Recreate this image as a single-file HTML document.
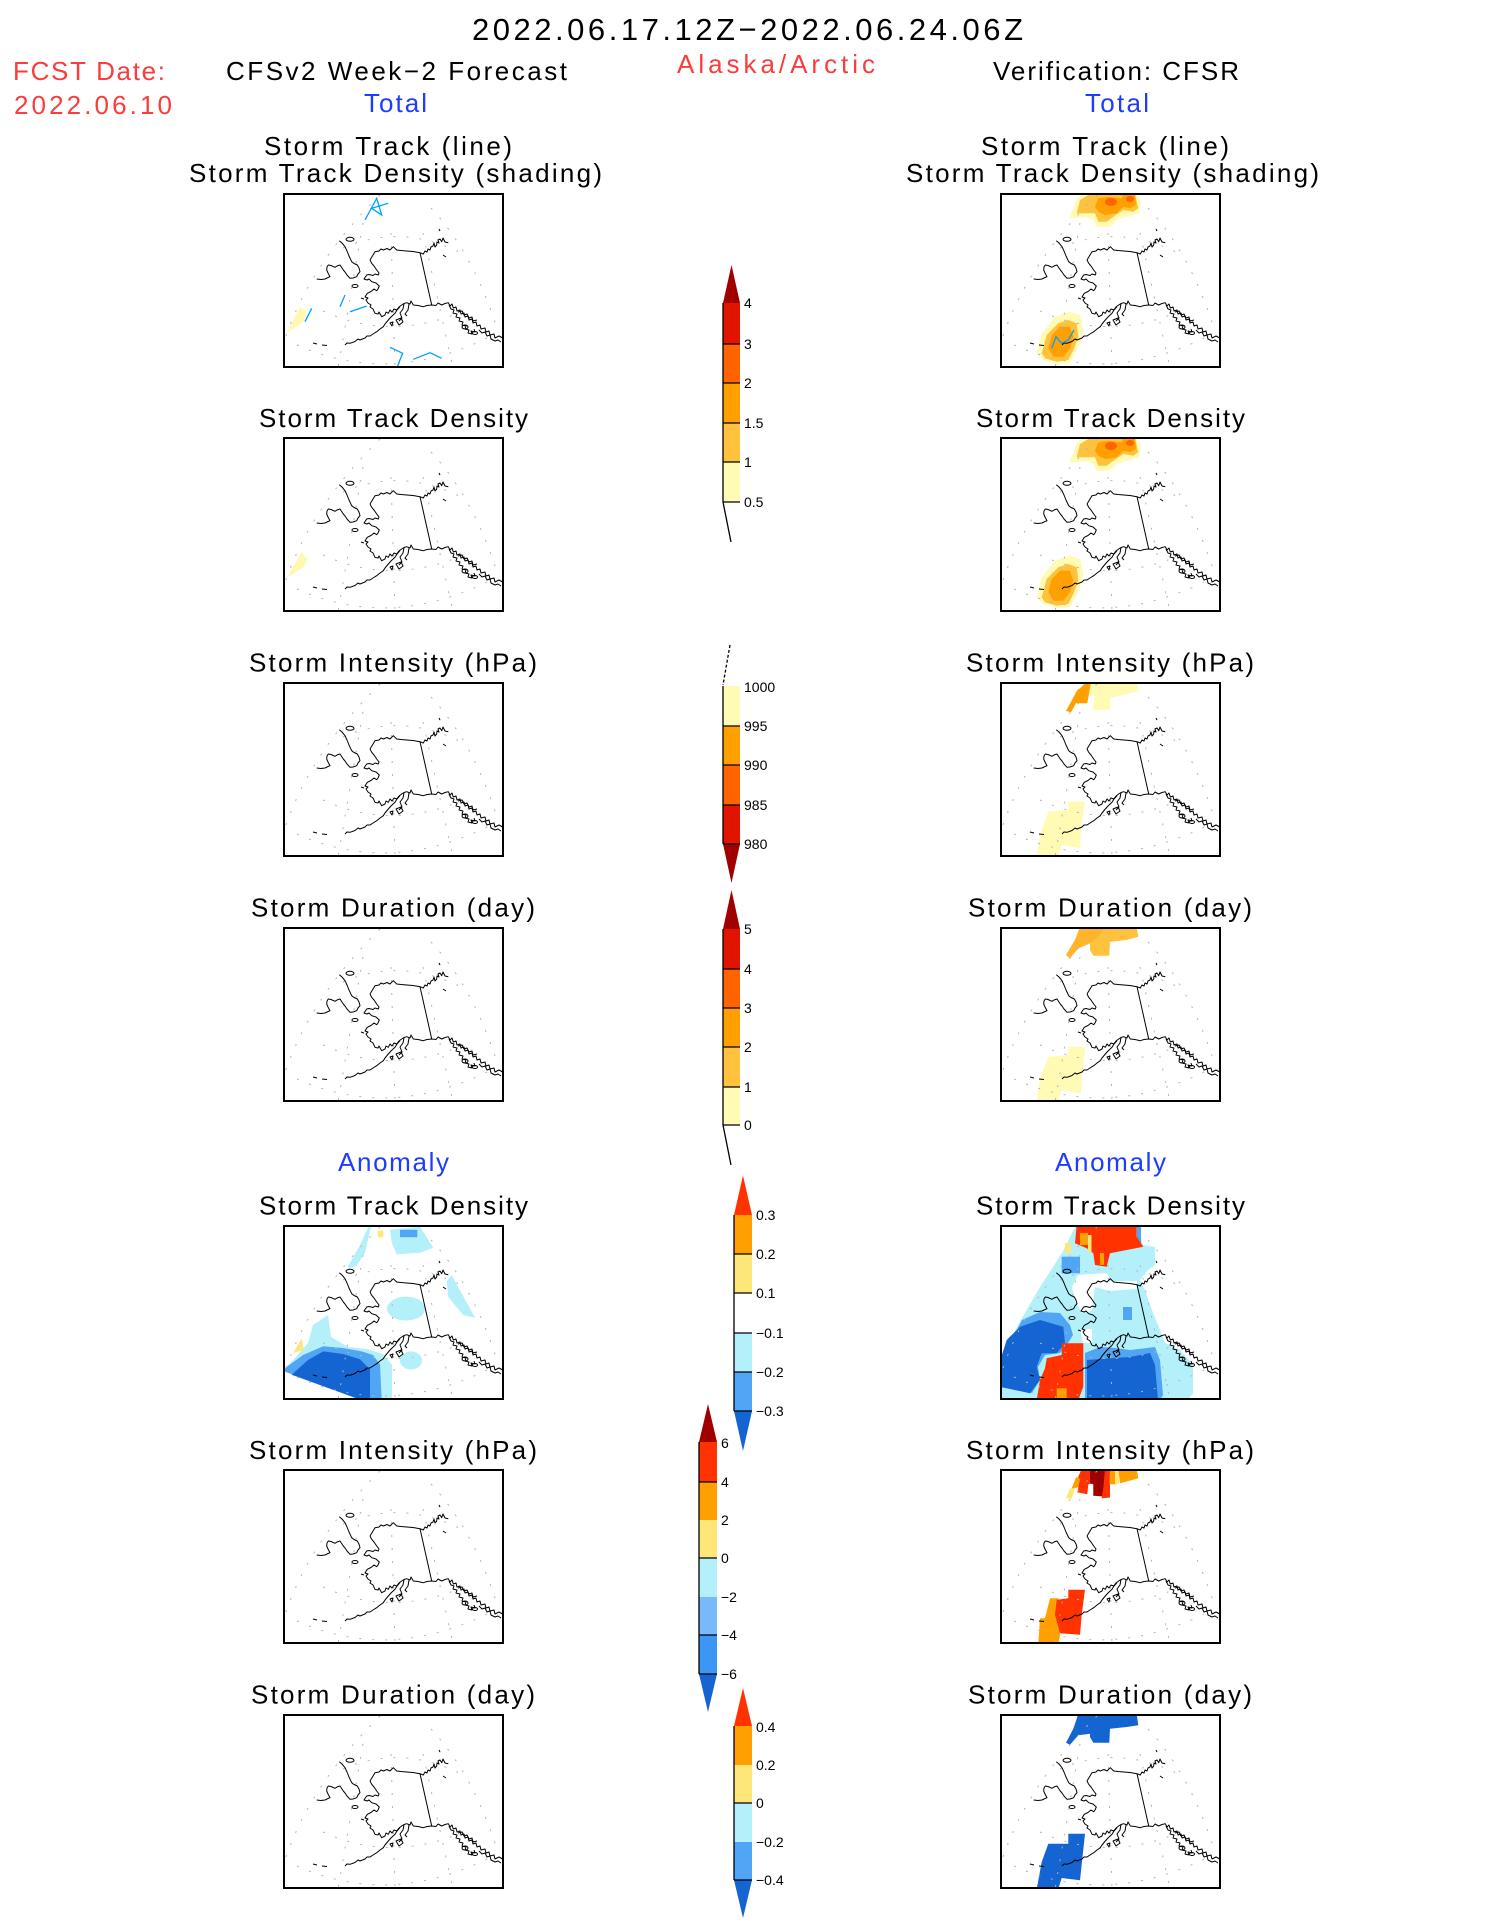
<!DOCTYPE html>
<html><head><meta charset="utf-8">
<style>
html,body{margin:0;padding:0;background:#fff;}
svg{display:block;}
text{font-family:"Liberation Sans",sans-serif;}
</style></head>
<body>
<svg width="1487" height="1925" viewBox="0 0 1487 1925" xmlns="http://www.w3.org/2000/svg">
<defs>
<clipPath id="bx"><rect x="0" y="0" width="221" height="175"/></clipPath>
<g id="grid" stroke="#b4b4b4" stroke-width="1" fill="none" stroke-dasharray="2 11">
 <path d="M3,143 Q28,70 97,2"/>
 <path d="M148,15 Q190,60 214,135"/>
 <path d="M14,152 Q110,195 214,140"/>
 <path d="M60,55 Q118,30 178,60"/>
 <path d="M40,118 Q110,150 185,116"/>
 <path d="M108,40 L112,175"/>
 <path d="M80,30 L55,175"/>
 <path d="M140,40 L170,175"/>
</g>
<g id="coast" stroke="#000" stroke-width="1" fill="none" stroke-linejoin="round">
 <path d="M87,67 L92,58.7 L96,58 L98,56 L100.3,57 L104,55.5 L107,57 L110.3,53.7 L113.7,57 L118,57.5 L123.7,58 L130,58.5 L137,59.7 L140.3,61 L142,58 L144,59 L145,56 L147,57 L148,54 L150,53 L151,50 L152,54 L153.7,52 L154,49 L156,50 L155,47 L157,46 L158.7,48.7 L160,45 L162,49 L165.3,49.7"/>
 <path d="M87,67 L88.7,70.3 L91,73 L93.7,77 L96,80 L95.3,82 L92,81 L90,82.5 L86,81.5 L83.7,82 L81,86 L84,87 L86,86 L88.7,88.7 L93,90 L96.3,93 L95,96 L93.7,97.7 L91,96 L88,98.5 L84.3,100.3 L82,104 L85,105 L83,107 L85,110 L88,112 L87,114 L90,116 L92,120.3 L95,121 L96,119 L98.7,123.7 L102,122 L103,119 L105.3,120.3 L107,117 L109,119 L111,116 L113.7,117 L116,114 L118.7,112 L121,110.5 L123.7,109.7 L127,111 L128,108 L130.3,112 L135,112.5 L140.3,113.7 L144,112.5 L148.7,112 L153,112.5 L155,110 L158.7,112 L162,110.5 L165.3,109.7 L167,113 L169,111 L170.3,115 L173,114 L174,118 L177,117 L178,121 L181,120 L182,124 L185,123 L186,127 L189,126 L190,130 L193,129 L194,133 L197,132 L198,136 L202,135 L203,139 L206,138 L207,142 L211,141 L212,145 L216,143 L219.7,145"/>
 <path d="M166,112 L168,116 L171,117 L170,120 L174,121 L173,124 L177,125 L176,128 L180,129 L179,132 L183,133 L182,136 L186,137 L185,140 L189,141 L188,138 L192,139 L191,136 M175,119 L179,118 L181,122 L184,121 L186,125 L189,124 L190,128 L194,127 M196,137 L199,140 L202,139 L204,143 L207,142 L208,146 L212,148 L215,147 L218,149"/>
 <path d="M117,113.7 L114,117 L112,120.3 L108,124 L105.3,127 L102,131 L100.3,133.7 L97,136 L93.7,138.7 L90,141 L87,143 L84,143 L82,145 L77,147 L75,146 L72,148.5 L67,150.3 L64,150 L62,152"/>
 <path d="M121,110.5 L120,116 L117,120 L119,125 L116,128 M126,111 L125,117 L122,121 L124,123"/>
 <path d="M113,127 L118,125 L120,129 L116,132 Z M107,130 L110,129 L109,133 Z"/>
 <path d="M137,59.7 L148.7,112"/>
 <path d="M56.3,47.7 L59,50 L62,53.7 L64,58 L66,63 L68.7,68.7 L71,70.5 L74.3,72 L76,75 L77,78.7 L75,81 L73.7,83.7 L70,85 L67,85.3 L64,82 L62,79 L60.3,77 L57,72 L54,73 L52,74.3 L48,72.5 L45.3,72 L44,74 L43.7,77 L45,80 L47,83.7 L44,85 L42,86 L38,86.5 L33.7,86"/>
 <ellipse cx="67" cy="46.3" rx="4" ry="2"/>
 <ellipse cx="72" cy="93" rx="3" ry="1.5"/>
 <ellipse cx="182" cy="134" rx="3" ry="2"/>
 <ellipse cx="192" cy="140" rx="2.5" ry="1.5"/>
 <path d="M30,150 L34,151 M39,152 L44,152.5 M156,36 L157,38 M160,62 L163,64 M78,105 L81,106"/>
</g>
<g id="frame"><rect x="1" y="1" width="219" height="173" fill="none" stroke="#000" stroke-width="2"/></g>
<g id="tblobs">
 <polygon fill="#fffab4" points="69.3,25.3 76.7,7 83.3,0 136.7,0 140.7,8.7 139.3,20.3 126.7,23.7 116.7,27 110,33.7 96.7,33.7 93.3,27 86.7,24.3"/>
 <polygon fill="#ffc23f" points="76.7,20.3 80,7 90,1 135,1 138.3,15.3 133.3,18.7 123.3,17 113.3,23.7 106.7,28.7 98.3,28.7 95,20.3"/>
 <polygon fill="#ffa000" points="95,13.7 98.3,5.3 108.3,3.7 121.7,5.3 123.3,1 135,1 136,12 130,15.3 123.3,13.7 116.7,20.3 105,22 98.3,18.7"/>
 <ellipse fill="#ff6400" cx="111" cy="9" rx="6" ry="4"/>
 <ellipse fill="#ff6400" cx="130" cy="6" rx="4" ry="3"/>
 <polygon fill="#fffab4" points="36.7,160.3 41.7,140.3 55,123.7 70,118.7 80,122 83.3,137 80,150.3 75,160.3 70,170.3 56.7,171 43.3,167"/>
 <polygon fill="#ffc23f" points="41.7,160.3 46.7,142 58.3,130.3 68.3,127 76.7,130.3 78.3,143.7 73.3,157 68.3,167 56.7,168.7 45,165.3"/>
 <polygon fill="#ffa000" points="48.3,155.3 51.7,142 60,133.7 70,133.7 73.3,143.7 70,155.3 63.3,163.7 53.3,163.7"/>
</g>
</defs>

<!-- Header texts -->
<text x="472" y="40" font-size="31" textLength="551" lengthAdjust="spacing">2022.06.17.12Z−2022.06.24.06Z</text>
<text x="13" y="80" font-size="26" fill="#fa3c3c" textLength="152" lengthAdjust="spacing">FCST Date:</text>
<text x="14" y="114" font-size="26" fill="#fa3c3c" textLength="158" lengthAdjust="spacing">2022.06.10</text>
<text x="226" y="80" font-size="26" textLength="341" lengthAdjust="spacing">CFSv2 Week−2 Forecast</text>
<text x="677" y="73" font-size="26" fill="#fa3c3c" textLength="198" lengthAdjust="spacing">Alaska/Arctic</text>
<text x="993" y="80" font-size="26" textLength="246" lengthAdjust="spacing">Verification: CFSR</text>
<text x="364" y="112" font-size="26" fill="#1e3cff" textLength="63" lengthAdjust="spacing">Total</text>
<text x="1085" y="112" font-size="26" fill="#1e3cff" textLength="64" lengthAdjust="spacing">Total</text>

<!-- Left column titles -->
<g font-size="26">
<text x="264" y="155" textLength="248" lengthAdjust="spacing">Storm Track (line)</text>
<text x="189" y="182" textLength="413" lengthAdjust="spacing">Storm Track Density (shading)</text>
<text x="259" y="427" textLength="269" lengthAdjust="spacing">Storm Track Density</text>
<text x="249" y="671.5" textLength="288" lengthAdjust="spacing">Storm Intensity (hPa)</text>
<text x="251" y="916.5" textLength="284" lengthAdjust="spacing">Storm Duration (day)</text>
<text x="338" y="1171" fill="#1e3cff" textLength="111" lengthAdjust="spacing">Anomaly</text>
<text x="259" y="1214.5" textLength="269" lengthAdjust="spacing">Storm Track Density</text>
<text x="249" y="1459" textLength="288" lengthAdjust="spacing">Storm Intensity (hPa)</text>
<text x="251" y="1703.5" textLength="284" lengthAdjust="spacing">Storm Duration (day)</text>
</g>
<!-- Right column titles -->
<g font-size="26" transform="translate(717,0)">
<text x="264" y="155" textLength="248" lengthAdjust="spacing">Storm Track (line)</text>
<text x="189" y="182" textLength="413" lengthAdjust="spacing">Storm Track Density (shading)</text>
<text x="259" y="427" textLength="269" lengthAdjust="spacing">Storm Track Density</text>
<text x="249" y="671.5" textLength="288" lengthAdjust="spacing">Storm Intensity (hPa)</text>
<text x="251" y="916.5" textLength="284" lengthAdjust="spacing">Storm Duration (day)</text>
<text x="338" y="1171" fill="#1e3cff" textLength="111" lengthAdjust="spacing">Anomaly</text>
<text x="259" y="1214.5" textLength="269" lengthAdjust="spacing">Storm Track Density</text>
<text x="249" y="1459" textLength="288" lengthAdjust="spacing">Storm Intensity (hPa)</text>
<text x="251" y="1703.5" textLength="284" lengthAdjust="spacing">Storm Duration (day)</text>
</g>

<!-- LEFT MAPS -->
<g transform="translate(283,193)">
 <g clip-path="url(#bx)">
  <polygon fill="#fff8b0" points="3.7,140 17,113.7 23.7,118.7 20.3,128.7"/>
 </g>
 <use href="#grid"/><use href="#coast"/>
 <g stroke="#00a0ff" stroke-width="1.3" fill="none">
  <path d="M82,27 L93.7,5.3 L98.7,22 L88.7,15.3 L105.3,10.3"/>
  <path d="M57,113.7 L62,102"/>
  <path d="M67,118.7 L83.7,113"/>
  <path d="M22,128.7 L28.7,115.3"/>
  <path d="M107,154.3 L119.7,160.3 L113.7,175"/>
  <path d="M130.3,166.3 L147,159.7 L158.7,165.3"/>
 </g>
 <use href="#frame"/>
</g>
<g transform="translate(283,437)">
 <g clip-path="url(#bx)">
  <polygon fill="#fff8b0" points="3.7,140.6 18.7,115.3 24.3,122.2 21,130"/>
 </g>
 <use href="#grid"/><use href="#coast"/><use href="#frame"/>
</g>
<g transform="translate(283,682)"><use href="#grid"/><use href="#coast"/><use href="#frame"/></g>
<g transform="translate(283,927)"><use href="#grid"/><use href="#coast"/><use href="#frame"/></g>
<g transform="translate(283,1225)">
 <g clip-path="url(#bx)">
  <polygon fill="#b4f0fa" points="65.3,40.8 77,20 85.3,1.8 88,1.8 82,27.8 73.7,40.8 66,43.4"/>
  <rect fill="#ffe678" x="94.7" y="5.5" width="5.6" height="6.7"/>
  <polygon fill="#b4f0fa" points="107,4.8 137,1.8 150.3,22.6 137,27.8 113.7,29.3 108.7,17.4"/>
  <rect fill="#50a5f5" x="117" y="4.8" width="17.3" height="7.4"/>
  <polygon fill="#b4f0fa" points="163.7,56.3 168.7,50.1 192,92.7 180.3,90.1 165.3,72"/>
  <ellipse fill="#b4f0fa" cx="123" cy="83.6" rx="19" ry="12"/>
  <ellipse fill="#b4f0fa" cx="128" cy="135.5" rx="11" ry="9"/>
  <polygon fill="#b4f0fa" points="0,145 12,133 25,118 30,100 45,90 48,112 65,122 84,124 100,129 109,140 109,175 80,175"/>
  <polygon fill="#50a5f5" points="3.7,142 20,130 40.3,121.2 60,123 78.7,126.4 90,130 97,139.4 98.7,175 80,175 0,146"/>
  <polygon fill="#1464d2" points="8.7,149.8 25,135 40.3,126.4 60,129 77,134.2 87,144.6 87,175 78,175"/>
  <polygon fill="#ffe678" points="10.3,128 18.7,113.5 21,124.9"/>
 </g>
 <use href="#grid"/><use href="#coast"/><use href="#frame"/>
</g>
<g transform="translate(283,1469)"><use href="#grid"/><use href="#coast"/><use href="#frame"/></g>
<g transform="translate(283,1714)"><use href="#grid"/><use href="#coast"/><use href="#frame"/></g>

<!-- RIGHT MAPS -->
<g transform="translate(1000,193)">
 <g clip-path="url(#bx)"><use href="#tblobs"/></g>
 <use href="#grid"/><use href="#coast"/>
 <path d="M51.7,155.3 L56,143.7 L61.7,150.3 L68.3,147 L74,137" stroke="#00a0ff" stroke-width="1.3" fill="none"/>
 <use href="#frame"/>
</g>
<g transform="translate(1000,437)">
 <g clip-path="url(#bx)"><use href="#tblobs"/></g>
 <use href="#grid"/><use href="#coast"/><use href="#frame"/>
</g>
<g transform="translate(1000,682)">
 <g clip-path="url(#bx)">
  <polygon fill="#fffab4" points="91,0 136.7,0 138.3,9 126.7,12.3 110.7,15.7 110,28 93.3,28 94.3,13.7 87.3,13.7"/>
  <polygon fill="#ffa000" points="80,6.3 86.7,0 91,0 87.3,21.3 76,21.3 71,30.3 66,29 77.3,8"/>
  <polygon fill="#fffab4" points="48.3,129.7 68.3,128 68.3,119.7 85,119.7 81.7,141.3 80,166.3 61.7,163 58.3,175 36.7,175 40,153"/>
 </g>
 <use href="#grid"/><use href="#coast"/><use href="#frame"/>
</g>
<g transform="translate(1000,927)">
 <g clip-path="url(#bx)">
  <polygon fill="#ffc23f" points="80,0 136.7,0 138.3,9.7 126.7,13 110,14.7 109.3,28.7 93.3,28.7 90,23 90,16.3 78.3,21.3 70,31.3 66,28 75,13"/>
  <polygon fill="#ffb42a" points="80,0 105,0 100,8 90,16.3 78.3,21.3 70,31.3 66,28 75,13"/>
  <polygon fill="#fffab4" points="48.3,129.7 68.3,128 68.3,119.7 85,119.7 80.7,166.3 61.7,163 58.3,175 36.7,175 40,151.3"/>
 </g>
 <use href="#grid"/><use href="#coast"/><use href="#frame"/>
</g>
<g transform="translate(1000,1225)">
 <g clip-path="url(#bx)">
  <polygon fill="#b4f0fa" points="0,136 18,100 40,62 62,28 76,0 137,0 143,20 155,22 155,40 148,45 140,55 145,65 150,80 158,100 165,118 180,125 193,140 193,168 188,175 0,175"/>
  <polygon fill="#fff" points="78,50 107,48 110,56 137,56 137,64 110,66 95,62 92,86 82,88 75,76 72,62"/>
  <polygon fill="#fff" points="80,104 92,104 92,118 83,118"/>
  <rect fill="#50a5f5" x="61.7" y="31.7" width="18.3" height="16.6"/>
  <rect fill="#50a5f5" x="123" y="82" width="9" height="13"/>
  <rect fill="#50a5f5" x="137" y="0" width="4" height="20"/>
  <polygon fill="#50a5f5" points="0,140 10,118 22,95 40,87 60,88 70,100 73,110 68,118 60,128 45,130 38,142 40,155 32,168 0,162"/>
  <polygon fill="#50a5f5" points="85,128 100,122 115,123 130,125 155,122 160,135 163,170 160,175 85,175"/>
  <polygon fill="#1464d2" points="0,136 6.7,115 20,101.7 40,95 63.3,101.7 65,118.3 56.7,128.3 41.7,128.3 36.7,141.7 40,155 30,168.3 0,161.7"/>
  <polygon fill="#1464d2" points="87,135 115,133 130,132 150,128 155,140 158,175 87,175"/>
  <polygon fill="#ff3200" points="76.7,0 136.7,0 136.7,11.7 143.3,21.7 126.7,25 110,28.3 106.7,41.7 95,40 93.3,28.3 86.7,23.3 75,18.3"/>
  <rect fill="#ffa000" x="80" y="8" width="8" height="12"/>
  <rect fill="#ffe678" x="88" y="10" width="3.5" height="17"/>
  <rect fill="#ffa000" x="100" y="28" width="4" height="12"/>
  <rect fill="#ffe678" x="65" y="18" width="6" height="10"/>
  <polygon fill="#ff3200" points="46.7,133.3 61.7,130 61.7,118.3 83.3,118.3 83.3,161.7 78.3,175 36.7,175 40,155 45,143.3"/>
  <rect fill="#ffa000" x="56.7" y="163.3" width="10" height="12"/>
 </g>
 <use href="#grid"/><use href="#coast"/><use href="#frame"/>
</g>
<g transform="translate(1000,1469)">
 <g clip-path="url(#bx)">
  <polygon fill="#ffe678" points="66,29.2 70,19.2 75,19.2 71.7,29.8"/>
  <polygon fill="#ffa000" points="71.7,19.2 76,8.5 81.7,7.5 80,17.5 75,19.2"/>
  <polygon fill="#ff3200" points="78.3,7.5 81.7,0 91.7,0 93.3,14.2 88.3,15.2 87.3,25.2 77.3,23.2 80,10.8"/>
  <polygon fill="#a00000" points="90,0 105,0 105,19.2 104,27.5 93.3,26.8 93.3,15.2 90,14.2"/>
  <polygon fill="#ff3200" points="105,0 110,0 110,28.5 101.7,29.2 103.3,19.2"/>
  <polygon fill="#ffa000" points="110,0 115,0 116,15.2 109.3,15.2"/>
  <polygon fill="#ffe678" points="115,0 119,0 119,15.2 115,15.2"/>
  <polygon fill="#ffa000" points="118.3,0 136.7,0 138.3,9.2 126.7,12.5 120,14.2"/>
  <polygon fill="#ffa000" points="50,129.2 58.3,129.2 60,165.8 58.3,175 38.3,175 40,149.2 45,149.2"/>
  <polygon fill="#ff3200" points="56.7,130.8 68.3,129.2 68.3,120.8 85,120.8 81.7,145.8 80,165.8 60,164.2 55,145.8"/>
 </g>
 <use href="#grid"/><use href="#coast"/><use href="#frame"/>
</g>
<g transform="translate(1000,1714)">
 <g clip-path="url(#bx)">
  <polygon fill="#1464d2" points="78.3,0 136.7,0 138.3,11.3 126.7,13 110,14.7 109.3,28.7 93.3,28.7 90,23 90,19.7 78.3,21.3 70,30.7 66,28.7 73.3,14.7"/>
  <polygon fill="#1464d2" points="48.3,129.7 68.3,129.7 68.3,119.7 85,119.7 80,166.3 61.7,164 58.3,175 36.7,175 41.7,148"/>
 </g>
 <use href="#grid"/><use href="#coast"/><use href="#frame"/>
</g>

<!-- COLORBARS -->
<g font-size="14">
<!-- CB1 -->
<polygon fill="#a00000" points="723,303 740,303 731.5,265"/>
<rect x="723" y="303" width="17" height="41" fill="#e11400"/>
<rect x="723" y="344" width="17" height="39" fill="#ff6400"/>
<rect x="723" y="383" width="17" height="40" fill="#ffa000"/>
<rect x="723" y="423" width="17" height="39" fill="#ffc23f"/>
<rect x="723" y="462" width="17" height="40" fill="#fffab4"/>
<g stroke="#000" stroke-width="1.3">
<path d="M723,344H740M723,383H740M723,423H740M723,462H740M723,502H740M723,303V502M723,502L731,542"/>
</g>
<text x="744" y="308">4</text><text x="744" y="349">3</text><text x="744" y="388">2</text>
<text x="744" y="428">1.5</text><text x="744" y="467">1</text><text x="744" y="507">0.5</text>

<!-- CB2 -->
<rect x="723" y="686" width="17" height="40" fill="#fffab4"/>
<rect x="723" y="726" width="17" height="39" fill="#ffa000"/>
<rect x="723" y="765" width="17" height="40" fill="#ff6400"/>
<rect x="723" y="805" width="17" height="39" fill="#e11400"/>
<polygon fill="#a00000" points="723,844 740,844 731.5,883"/>
<g stroke="#000" stroke-width="1.3">
<path d="M723,726H740M723,765H740M723,805H740M723,844H740M723,686V844"/>
<path d="M730,645 L723,685" stroke-dasharray="3 2"/>
</g>
<text x="744" y="692">1000</text><text x="744" y="731">995</text><text x="744" y="770">990</text>
<text x="744" y="810">985</text><text x="744" y="849">980</text>

<!-- CB3 -->
<polygon fill="#a00000" points="723,929 740,929 731.5,890"/>
<rect x="723" y="929" width="17" height="40" fill="#e11400"/>
<rect x="723" y="969" width="17" height="39" fill="#ff6400"/>
<rect x="723" y="1008" width="17" height="39" fill="#ffa000"/>
<rect x="723" y="1047" width="17" height="40" fill="#ffc23f"/>
<rect x="723" y="1087" width="17" height="38" fill="#fffab4"/>
<g stroke="#000" stroke-width="1.3">
<path d="M723,969H740M723,1008H740M723,1047H740M723,1087H740M723,1125H740M723,929V1125M723,1125L731,1165"/>
</g>
<text x="744" y="934">5</text><text x="744" y="974">4</text><text x="744" y="1013">3</text>
<text x="744" y="1052">2</text><text x="744" y="1092">1</text><text x="744" y="1130">0</text>

<!-- CB4 -->
<polygon fill="#ff3200" points="734,1215 752,1215 743,1175.5"/>
<rect x="734" y="1215" width="18" height="39" fill="#ffa000"/>
<rect x="734" y="1254" width="18" height="39" fill="#ffe678"/>
<rect x="734" y="1333" width="18" height="39" fill="#b4f0fa"/>
<rect x="734" y="1372" width="18" height="39" fill="#50a5f5"/>
<polygon fill="#1464d2" points="734,1411 752,1411 743,1451"/>
<g stroke="#000" stroke-width="1.3">
<path d="M734,1254H752M734,1293H752M734,1333H752M734,1372H752M734,1411H752M734,1215V1411"/>
</g>
<text x="756" y="1220">0.3</text><text x="756" y="1259">0.2</text><text x="756" y="1298">0.1</text>
<text x="756" y="1338">−0.1</text><text x="756" y="1377">−0.2</text><text x="756" y="1416">−0.3</text>

<!-- CB5 -->
<polygon fill="#a00000" points="699,1442 717,1442 708,1404"/>
<rect x="699" y="1442" width="18" height="40" fill="#ff3200"/>
<rect x="699" y="1482" width="18" height="38" fill="#ffa000"/>
<rect x="699" y="1520" width="18" height="38" fill="#ffe678"/>
<rect x="699" y="1558" width="18" height="39" fill="#b4f0fa"/>
<rect x="699" y="1597" width="18" height="38" fill="#78b9fa"/>
<rect x="699" y="1635" width="18" height="39" fill="#3c96f5"/>
<polygon fill="#1464d2" points="699,1674 717,1674 708,1712"/>
<g stroke="#000" stroke-width="1.3">
<path d="M699,1482H717M699,1558H717M699,1635H717M699,1674H717M699,1442V1674"/>
</g>
<text x="721" y="1448">6</text><text x="721" y="1487">4</text><text x="721" y="1525">2</text>
<text x="721" y="1563">0</text><text x="721" y="1602">−2</text><text x="721" y="1640">−4</text><text x="721" y="1679">−6</text>

<!-- CB6 -->
<polygon fill="#ff3200" points="734,1726 752,1726 743,1688"/>
<rect x="734" y="1726" width="18" height="39" fill="#ffa000"/>
<rect x="734" y="1765" width="18" height="38" fill="#ffe678"/>
<rect x="734" y="1803" width="18" height="39" fill="#b4f0fa"/>
<rect x="734" y="1842" width="18" height="38" fill="#50a5f5"/>
<polygon fill="#1464d2" points="734,1880 752,1880 743,1918"/>
<g stroke="#000" stroke-width="1.3">
<path d="M734,1803H752M734,1880H752M734,1726V1880"/>
</g>
<text x="756" y="1732">0.4</text><text x="756" y="1770">0.2</text><text x="756" y="1808">0</text>
<text x="756" y="1847">−0.2</text><text x="756" y="1885">−0.4</text>
</g>
</svg>
</body></html>
